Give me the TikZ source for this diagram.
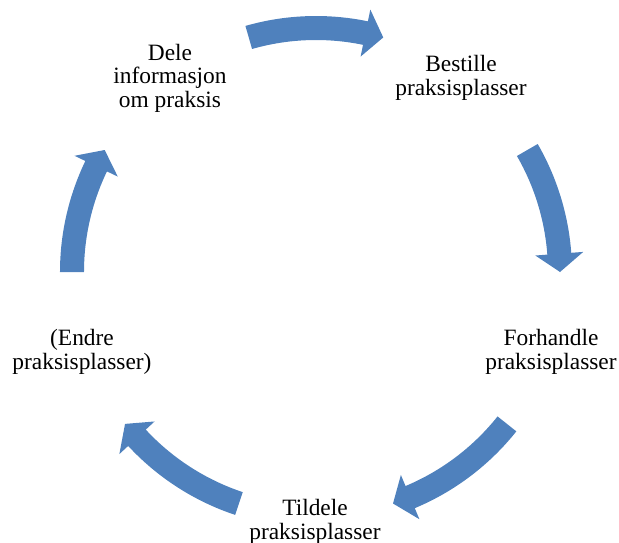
\documentclass[tikz,border=0pt]{standalone}
\usepackage{fontspec}
\setmainfont{Liberation Serif}
\definecolor{accentblue}{HTML}{4F81BD}
\newcommand{\blockarc}[2]{% #1 tail angle, #2 tip angle (clockwise)
  \pgfmathsetmacro{\hb}{#2+4.3}
  \fill[arrowfill] (#1:256pt) arc[start angle=#1, end angle=\hb, radius=256pt]
    -- (\hb:268pt) -- (#2:244pt) -- (\hb:220pt) -- (\hb:232pt)
    arc[start angle=\hb, end angle=#1, radius=232pt] -- cycle;
}
\begin{document}
\begin{tikzpicture}[x=1pt,y=1pt,
  arrowfill/.style={fill=accentblue},
  lbl/.style={align=center, inner sep=0pt, text=black,
    font=\fontsize{23.4}{23.5}\selectfont}]
\useasboundingbox (-316,-270) rectangle (303,272);
\coordinate (c) at (0,0);
\node[lbl] (dele) at (-146,194) {Dele\\informasjon\\om praksis};
\node[lbl] (bestille) at (145,194) {Bestille\\praksisplasser};
\node[lbl] (forhandle) at (235,-80) {Forhandle\\praksisplasser};
\node[lbl] (tildele) at (-1,-250) {Tildele\\praksisplasser};
\node[lbl] (endre) at (-234,-80) {(Endre\\praksisplasser)};
\blockarc{106}{74}
\blockarc{30}{0}
\blockarc{-38.5}{-71.6}
\blockarc{-108.4}{-141.5}
\blockarc{180}{150}
\end{tikzpicture}
\end{document}
